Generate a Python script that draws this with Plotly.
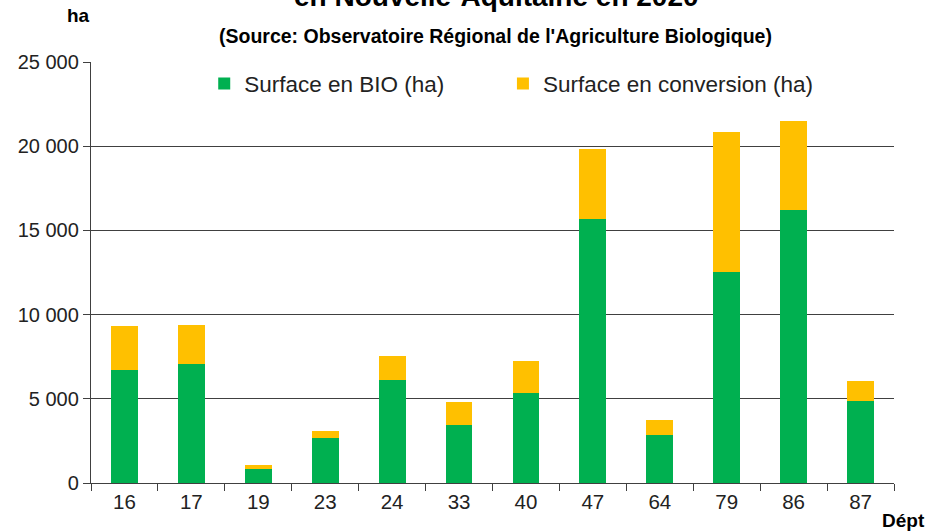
import plotly.graph_objects as go

departements = ["16", "17", "19", "23", "24", "33", "40", "47", "64", "79", "86", "87"]
surface_bio = [6690, 7050, 830, 2690, 6130, 3460, 5340, 15660, 2830, 12550, 16210, 4850]
surface_conversion = [2610, 2330, 240, 420, 1410, 1330, 1920, 4170, 890, 8290, 5270, 1190]
y_ticks = [0, 5000, 10000, 15000, 20000, 25000]

GREEN = "#00B050"
YELLOW = "#FFC000"
FONT = "Liberation Sans, Arial, sans-serif"

fig = go.Figure()
fig.add_trace(go.Bar(x=departements, y=surface_bio, name="Surface en BIO (ha)",
                     marker=dict(color=GREEN, line=dict(width=0)), legend="legend"))
fig.add_trace(go.Bar(x=departements, y=surface_conversion, name="Surface en conversion (ha)",
                     marker=dict(color=YELLOW, line=dict(width=0)), legend="legend2"))

legend_common = dict(orientation="h", xanchor="left", y=0.948, yanchor="middle",
                     font=dict(size=22.5, color="#222222"), itemwidth=30,
                     bgcolor="rgba(0,0,0,0)")

fig.update_layout(
    width=927, height=531,
    barmode="stack", bargap=0.6,
    separators=", ",
    plot_bgcolor="white", paper_bgcolor="white",
    margin=dict(l=91, r=33, t=62, b=48),
    font=dict(family=FONT, size=20, color="#222222"),
    showlegend=True,
    legend=dict(x=0.141, **legend_common),
    legend2=dict(x=0.513, **legend_common),
    xaxis=dict(type="category", showline=True, linecolor="#404040", linewidth=1.3,
               ticks="outside", tickson="boundaries", ticklen=7, tickcolor="#404040",
               tickfont=dict(size=20.5, color="#222222"), showgrid=False),
    yaxis=dict(range=[0, 25000], tickvals=y_ticks, tickformat=",d",
               showline=True, linecolor="#404040", linewidth=1.3,
               ticks="outside", ticklen=7, tickcolor="#404040",
               showgrid=True, gridcolor="#404040", gridwidth=1.3,
               zeroline=True, zerolinecolor="#404040", zerolinewidth=1.3,
               tickfont=dict(size=20, color="#222222")),
)

fig.add_annotation(text="<b>en Nouvelle-Aquitaine en 2020</b>", xref="paper", yref="paper",
                   x=0.5, y=1.0, xshift=4, yshift=66, xanchor="center", yanchor="middle",
                   showarrow=False, font=dict(family=FONT, size=28, color="#000000"))
fig.add_annotation(text="<b>ha</b>", xref="paper", yref="paper", x=0, y=1.0,
                   xshift=-13, yshift=47, xanchor="center", yanchor="middle", showarrow=False,
                   font=dict(family=FONT, size=19, color="#000000"))
fig.add_annotation(text="<b>(Source: Observatoire Régional de l'Agriculture Biologique)</b>",
                   xref="paper", yref="paper", x=0.504, y=1.0, yshift=26,
                   xanchor="center", yanchor="middle", showarrow=False,
                   font=dict(family=FONT, size=19.5, color="#000000"))
fig.add_annotation(text="<b>Dépt</b>", xref="paper", yref="paper", x=1.0, y=0.0,
                   xshift=9, yshift=-37, xanchor="center", yanchor="middle", showarrow=False,
                   font=dict(family=FONT, size=19, color="#000000"))

fig.write_html("out.html", config={"displayModeBar": False},
               post_script="document.body.style.margin='0';")
